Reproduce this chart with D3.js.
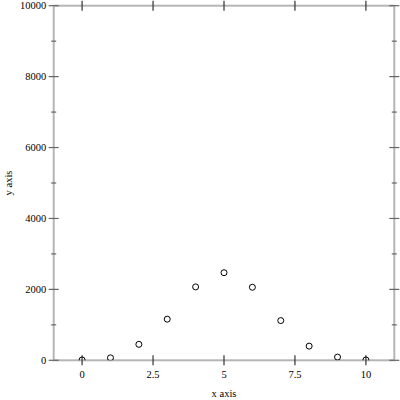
<!DOCTYPE html>
<html>
<head>
<meta charset="utf-8">
<script src="https://cdn.jsdelivr.net/npm/d3@7"></script>
<style>
html,body{margin:0;padding:0;background:#fff;}
svg{display:block;}
text{font-family:"Liberation Serif","Times New Roman",serif;font-size:10.5px;fill:#000;}
</style>
</head>
<body>
<svg id="chart" width="400" height="400"></svg>
<script>
const xValues = [0, 1, 2, 3, 4, 5, 6, 7, 8, 9, 10];
const yValues = [10, 70, 450, 1160, 2070, 2470, 2060, 1120, 400, 90, 10];
const xTicks = [0, 2.5, 5, 7.5, 10];
const xTickLabels = ["0", "2.5", "5", "7.5", "10"];
const yMajorTicks = [0, 2000, 4000, 6000, 8000, 10000];
const yMinorTicks = [1000, 3000, 5000, 7000, 9000];
const xTitle = "x axis";
const yTitle = "y axis";

const svg = d3.select("#chart");
const L = 53.7, R = 394.3, T = 5.7, B = 360.3;
const x = d3.scaleLinear().domain([-1, 11]).range([L, R]);
const y = d3.scaleLinear().domain([0, 10000]).range([B, T]);

svg.append("defs").append("clipPath").attr("id", "clip")
  .append("rect").attr("x", L).attr("y", T).attr("width", R - L).attr("height", B - T);

// frame
const frame = svg.append("g");
frame.append("rect").attr("x", L).attr("y", T).attr("width", R - L).attr("height", B - T)
  .attr("fill", "none").attr("stroke", "#b5b5b5").attr("stroke-width", 2);

// y ticks (left and right)
const tg = svg.append("g");
function yTick(v, len, col) {
  tg.append("line").attr("x1", L - len).attr("x2", L + len).attr("y1", y(v)).attr("y2", y(v))
    .attr("stroke", col).attr("stroke-width", 1.2);
  tg.append("line").attr("x1", R - len).attr("x2", R + len).attr("y1", y(v)).attr("y2", y(v))
    .attr("stroke", col).attr("stroke-width", 1.2);
}
yMajorTicks.forEach(v => yTick(v, 5, "#666"));
yMinorTicks.forEach(v => yTick(v, 2.5, "#666"));

// x ticks (bottom and top)
xTicks.forEach(v => {
  tg.append("line").attr("x1", x(v)).attr("x2", x(v)).attr("y1", B - 5).attr("y2", B + 5)
    .attr("stroke", "#333").attr("stroke-width", 1.2);
  tg.append("line").attr("x1", x(v)).attr("x2", x(v)).attr("y1", T - 5).attr("y2", T + 5)
    .attr("stroke", "#333").attr("stroke-width", 1.2);
});

// tick labels
svg.append("g").selectAll("text").data(yMajorTicks).join("text")
  .attr("x", L - 7.5).attr("y", d => y(d)).attr("dy", "0.35em")
  .attr("text-anchor", "end").text(d => String(d));
svg.append("g").selectAll("text").data(xTicks).join("text")
  .attr("x", d => x(d)).attr("y", B + 14).attr("dy", "0.35em")
  .attr("text-anchor", "middle").text((d, i) => xTickLabels[i]);

// titles
svg.append("text").attr("x", (L + R) / 2).attr("y", 393).attr("dy", "0.35em")
  .attr("text-anchor", "middle").text(xTitle);
svg.append("text").attr("transform", `translate(8,${(T + B) / 2}) rotate(-90)`)
  .attr("dy", "0.35em").attr("text-anchor", "middle").text(yTitle);

// points
svg.append("g").attr("clip-path", "url(#clip)")
  .selectAll("circle").data(xValues).join("circle")
  .attr("cx", d => x(d)).attr("cy", (d, i) => y(yValues[i])).attr("r", 3)
  .attr("fill", "none").attr("stroke", "#000").attr("stroke-width", 1);
</script>
</body>
</html>
